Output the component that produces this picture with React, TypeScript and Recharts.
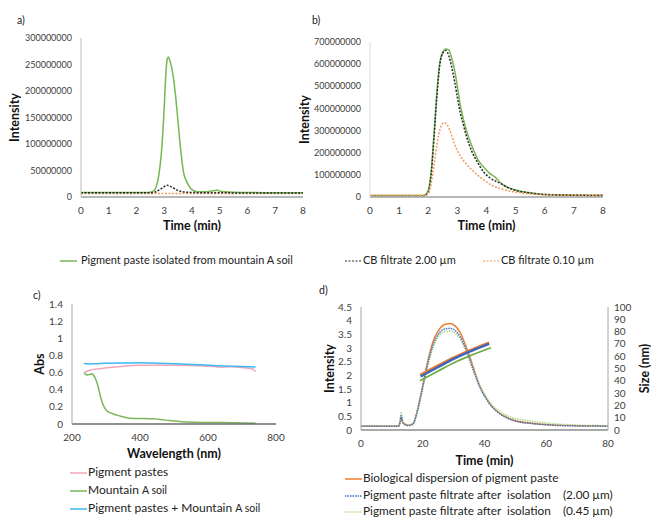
import React from 'react';
import { LineChart, Line, XAxis, YAxis, Label } from 'recharts';

const FONT = 'Lato, "Open Sans", "DejaVu Sans", sans-serif';

// ---------- Panel a (intensity vs time) ----------
const abTimeTicks = [0, 1, 2, 3, 4, 5, 6, 7, 8];
const aIntensityTicks = [0, 50000000, 100000000, 150000000, 200000000, 250000000, 300000000];
const aPigmentTime = [0, 1, 2, 2.4, 2.6, 2.7, 2.8, 2.9, 3.0, 3.05, 3.1, 3.15, 3.2, 3.3, 3.4, 3.5, 3.6, 3.7, 3.8, 3.9, 4.0, 4.2, 4.5, 4.8, 4.9, 5.0, 5.5, 6, 7, 8];
const aPigmentVal = [8.5e6, 8.5e6, 8.5e6, 8.5e6, 11e6, 18e6, 40e6, 85e6, 170e6, 225e6, 258e6, 264e6, 258e6, 235e6, 195e6, 140e6, 85e6, 45e6, 30e6, 20e6, 14e6, 10e6, 10e6, 12e6, 13e6, 11e6, 9e6, 8.5e6, 8e6, 8e6];
const aCB200Time = [0, 2.5, 2.7, 2.9, 3.1, 3.3, 3.5, 3.8, 4.5, 8];
const aCB200Val = [8e6, 8e6, 10e6, 16e6, 22e6, 18e6, 12e6, 9e6, 8e6, 7.5e6];
const aCB010Time = [0, 2, 4, 6, 8];
const aCB010Val = [6.5e6, 6.5e6, 6.5e6, 6.5e6, 6.5e6];

// ---------- Panel b ----------
const bIntensityTicks = [0, 100000000, 200000000, 300000000, 400000000, 500000000, 600000000, 700000000];
const bPigmentTime = [0, 1.8, 1.9, 2.0, 2.1, 2.2, 2.3, 2.4, 2.5, 2.6, 2.7, 2.8, 2.9, 3.0, 3.1, 3.2, 3.3, 3.5, 3.7, 3.9, 4.1, 4.3, 4.5, 4.7, 5.0, 5.4, 5.8, 6.3, 7, 8];
const bPigmentVal = [7e6, 7e6, 10e6, 30e6, 115e6, 290e6, 480e6, 610e6, 655e6, 668e6, 665e6, 630e6, 575e6, 500e6, 415e6, 355e6, 305e6, 230e6, 170e6, 135e6, 108e6, 90e6, 62e6, 45e6, 32e6, 20e6, 14e6, 10e6, 8e6, 8e6];
const bCB200Time = [0, 1.8, 1.9, 2.0, 2.1, 2.2, 2.3, 2.4, 2.5, 2.6, 2.7, 2.8, 2.9, 3.0, 3.1, 3.2, 3.3, 3.5, 3.7, 3.9, 4.1, 4.5, 4.7, 5.0, 5.4, 5.8, 6.3, 7, 8];
const bCB200Val = [6e6, 6e6, 8e6, 22e6, 100e6, 270e6, 460e6, 600e6, 650e6, 662e6, 640e6, 590e6, 525e6, 450e6, 380e6, 330e6, 280e6, 205e6, 155e6, 113e6, 88e6, 60e6, 45e6, 30e6, 20e6, 13e6, 10e6, 8e6, 7e6];
const bCB010Time = [0, 1.9, 2.0, 2.1, 2.2, 2.3, 2.4, 2.5, 2.56, 2.65, 2.8, 2.9, 3.1, 3.3, 3.6, 3.9, 4.2, 4.7, 5.2, 5.7, 6.5, 8];
const bCB010Val = [8e6, 8e6, 15e6, 60e6, 145e6, 240e6, 305e6, 332e6, 336e6, 326e6, 280e6, 240e6, 185e6, 150e6, 110e6, 77e6, 52e6, 30e6, 18e6, 12e6, 9e6, 8e6];

// ---------- Panel c (absorbance) ----------
const cWaveTicks = [200, 400, 600, 800];
const cAbsTicks = [0, 0.2, 0.4, 0.6, 0.8, 1, 1.2, 1.4];
const cPasteWave = [235, 250, 280, 300, 350, 400, 500, 600, 620, 640, 660, 700, 720, 730, 735, 740];
const cPasteAbs = [0.6, 0.625, 0.645, 0.655, 0.675, 0.685, 0.685, 0.675, 0.67, 0.66, 0.668, 0.66, 0.65, 0.645, 0.63, 0.61];
const cSoilWave = [235, 240, 245, 252, 258, 265, 272, 277, 285, 292, 302, 320, 341, 371, 438, 488, 537, 600, 680, 740];
const cSoilAbs = [0.59, 0.58, 0.572, 0.578, 0.585, 0.56, 0.5, 0.435, 0.3, 0.22, 0.155, 0.12, 0.093, 0.066, 0.06, 0.04, 0.023, 0.018, 0.015, 0.01];
const cMixWave = [235, 250, 270, 300, 350, 400, 450, 500, 550, 600, 650, 700, 740];
const cMixAbs = [0.705, 0.7, 0.703, 0.708, 0.712, 0.715, 0.71, 0.702, 0.695, 0.685, 0.678, 0.67, 0.665];

// ---------- Panel d (intensity + size) ----------
const dTimeTicks = [0, 20, 40, 60, 80];
const dIntensityTicks = [0, 0.5, 1, 1.5, 2, 2.5, 3, 3.5, 4, 4.5];
const dSizeTicks = [0, 10, 20, 30, 40, 50, 60, 70, 80, 90, 100];
const dTime = [0, 10, 12.2, 12.7, 13, 13.4, 14.3, 15.3, 16.9, 18, 19.1, 20.2, 21.3, 22.3, 23.4, 25, 26.7, 28.8, 30.4, 32.1, 33.7, 35.3, 36.9, 38.5, 40.2, 42.3, 44.5, 47.7, 49.9, 55, 60, 65, 70, 80];
const dBioInt = [0.15, 0.15, 0.15, 0.3, 0.48, 0.3, 0.2, 0.17, 0.24, 0.6, 1.14, 1.74, 2.35, 2.83, 3.26, 3.63, 3.84, 3.9, 3.82, 3.57, 3.15, 2.66, 2.11, 1.62, 1.25, 0.89, 0.65, 0.43, 0.34, 0.25, 0.2, 0.17, 0.16, 0.15];
const dF200Int = [0.14, 0.14, 0.14, 0.32, 0.52, 0.32, 0.2, 0.16, 0.23, 0.58, 1.1, 1.68, 2.27, 2.73, 3.13, 3.5, 3.68, 3.72, 3.65, 3.42, 3.02, 2.55, 2.03, 1.56, 1.2, 0.86, 0.63, 0.42, 0.33, 0.24, 0.19, 0.16, 0.15, 0.14];
const dF045Int = [0.15, 0.15, 0.15, 0.38, 0.62, 0.36, 0.21, 0.17, 0.24, 0.57, 1.08, 1.65, 2.22, 2.67, 3.06, 3.42, 3.58, 3.62, 3.56, 3.35, 2.98, 2.53, 2.04, 1.6, 1.25, 0.93, 0.7, 0.5, 0.42, 0.32, 0.25, 0.2, 0.17, 0.15];
const dBioSizeTime = [19.1, 25, 30, 35, 41.5];
const dBioSize = [44.7, 52.5, 58.8, 64.5, 71];
const dF200SizeTime = [19.3, 25, 30, 35, 41.5];
const dF200Size = [43.5, 51.2, 57.8, 63.5, 70];
const dF045SizeTime = [19.1, 25, 30, 35, 42.1];
const dF045Size = [40.1, 48, 54.5, 60, 66.9];

const pts = (xs: number[], ys: number[]) => xs.map((x, i) => ({ x, y: ys[i] }));

const tickStyle = { fontSize: 10, fill: '#404040', fontFamily: FONT };
const smallTickStyle = { fontSize: 9, fill: '#404040', fontFamily: FONT };
const titleStyle = { fontSize: 12.5, fontWeight: 700, fill: '#111', fontFamily: FONT };

const LegendSwatch = ({ color, dash, width = 2 }: { color: string; dash?: string; width?: number }) => (
  <svg width={17} height={10} style={{ display: 'inline-block', verticalAlign: 'middle', marginRight: 1 }}>
    <line x1={0} y1={5} x2={17} y2={5} stroke={color} strokeWidth={width} strokeDasharray={dash} />
  </svg>
);

const panelLabel = (text: string, left: number, top: number) => (
  <div style={{ position: 'absolute', left, top, fontFamily: FONT, fontSize: 10.5, color: '#222', lineHeight: '12px' }}>{text}</div>
);

export default function App() {
  return (
    <div style={{ position: 'absolute', left: 0, top: 0, width: 651, height: 518, background: '#fff', overflow: 'hidden' }}>
      {panelLabel('a)', 17, 14)}
      {panelLabel('b)', 312, 14)}
      {panelLabel('c)', 33, 289)}
      {panelLabel('d)', 319, 284)}

      {/* Panel a */}
      <div style={{ position: 'absolute', left: 0, top: 0 }}>
        <LineChart width={320} height={245} margin={{ top: 38, right: 17, left: 11, bottom: 15 }}>
          <XAxis type="number" dataKey="x" domain={[0, 8]} ticks={abTimeTicks} interval={0} tickLine={false} tickMargin={4} height={33}
            axisLine={{ stroke: '#a0a0a0', strokeWidth: 1.5 }} tick={tickStyle}>
            <Label value="Time (min)" position="insideBottom" offset={0} style={titleStyle} />
          </XAxis>
          <YAxis type="number" dataKey="y" domain={[0, 300000000]} ticks={aIntensityTicks} interval={0} width={70} tickLine={false} tickMargin={3}
            axisLine={{ stroke: '#bdbdbd', strokeWidth: 1 }} tick={smallTickStyle}>
            <Label value="Intensity" angle={-90} position="insideLeft" offset={4} style={{ ...titleStyle, textAnchor: 'middle' }} />
          </YAxis>
          <Line data={pts(aCB010Time, aCB010Val)} dataKey="y" type="monotone" stroke="#f29a5c" strokeWidth={1.5} strokeDasharray="2 1.5" dot={false} isAnimationActive={false} />
          <Line data={pts(aPigmentTime, aPigmentVal)} dataKey="y" type="monotone" stroke="#76b852" strokeWidth={1.5} dot={false} isAnimationActive={false} />
          <Line data={pts(aCB200Time, aCB200Val)} dataKey="y" type="monotone" stroke="#2a2a2a" strokeWidth={1.5} strokeDasharray="2 1.5" dot={false} isAnimationActive={false} />
        </LineChart>
      </div>

      {/* Panel b */}
      <div style={{ position: 'absolute', left: 290, top: 0 }}>
        <LineChart width={330} height={245} margin={{ top: 42, right: 17, left: 10, bottom: 15 }}>
          <XAxis type="number" dataKey="x" domain={[0, 8]} ticks={abTimeTicks} interval={0} tickLine={false} tickMargin={4} height={33}
            axisLine={{ stroke: '#a0a0a0', strokeWidth: 1.5 }} tick={tickStyle}>
            <Label value="Time (min)" position="insideBottom" offset={0} style={titleStyle} />
          </XAxis>
          <YAxis type="number" dataKey="y" domain={[0, 700000000]} ticks={bIntensityTicks} interval={0} width={70} tickLine={false} tickMargin={3}
            axisLine={{ stroke: '#dedede', strokeWidth: 1 }} tick={smallTickStyle}>
            <Label value="Intensity" angle={-90} position="insideLeft" offset={5} style={{ ...titleStyle, textAnchor: 'middle' }} />
          </YAxis>
          <Line data={pts(bPigmentTime, bPigmentVal)} dataKey="y" type="monotone" stroke="#76b852" strokeWidth={1.5} dot={false} isAnimationActive={false} />
          <Line data={pts(bCB200Time, bCB200Val)} dataKey="y" type="monotone" stroke="#2a2a2a" strokeWidth={1.5} strokeDasharray="2 1.5" dot={false} isAnimationActive={false} />
          <Line data={pts(bCB010Time, bCB010Val)} dataKey="y" type="monotone" stroke="#f29a5c" strokeWidth={1.5} strokeDasharray="2 1.5" dot={false} isAnimationActive={false} />
        </LineChart>
      </div>

      {/* Legend a/b */}
      <div style={{ position: 'absolute', left: 60, top: 252, fontFamily: FONT, fontSize: 11, color: '#222', whiteSpace: 'nowrap', lineHeight: '16px' }}>
        <LegendSwatch color="#76b852" width={1.5} />
        <span style={{ marginLeft: 3 }}>Pigment paste isolated from mountain A soil</span>
      </div>
      <div style={{ position: 'absolute', left: 345, top: 252, fontFamily: FONT, fontSize: 11, color: '#222', whiteSpace: 'nowrap', lineHeight: '16px' }}>
        <LegendSwatch color="#2a2a2a" dash="2 1.5" width={1.2} />
        <span>CB filtrate 2.00 µm</span>
      </div>
      <div style={{ position: 'absolute', left: 483, top: 252, fontFamily: FONT, fontSize: 11, color: '#222', whiteSpace: 'nowrap', lineHeight: '16px' }}>
        <LegendSwatch color="#f29a5c" dash="2 1.5" width={1.2} />
        <span>CB filtrate 0.10 µm</span>
      </div>

      {/* Panel c */}
      <div style={{ position: 'absolute', left: 0, top: 270 }}>
        <LineChart width={300} height={248} margin={{ top: 34, right: 24, left: 30, bottom: 60 }}>
          <XAxis type="number" dataKey="x" domain={[200, 800]} ticks={cWaveTicks} interval={0} tickLine={false} tickMargin={4} height={34}
            axisLine={{ stroke: '#6a6a6a', strokeWidth: 1.5 }} tick={tickStyle}>
            <Label value="Wavelength (nm)" position="insideBottom" offset={0} style={titleStyle} />
          </XAxis>
          <YAxis type="number" dataKey="y" domain={[0, 1.4]} ticks={cAbsTicks} interval={0} width={42} tickLine={false} tickMargin={3}
            axisLine={{ stroke: '#a6a6a6', strokeWidth: 1 }} tick={tickStyle}>
            <Label value="Abs" angle={-90} position="insideLeft" offset={10} style={{ ...titleStyle, textAnchor: 'middle' }} />
          </YAxis>
          <Line data={pts(cPasteWave, cPasteAbs)} dataKey="y" type="monotone" stroke="#f2a7b8" strokeWidth={1.5} dot={false} isAnimationActive={false} />
          <Line data={pts(cSoilWave, cSoilAbs)} dataKey="y" type="monotone" stroke="#7ab55c" strokeWidth={1.5} dot={false} isAnimationActive={false} />
          <Line data={pts(cMixWave, cMixAbs)} dataKey="y" type="monotone" stroke="#3bb8ef" strokeWidth={1.5} dot={false} isAnimationActive={false} />
        </LineChart>
      </div>

      {/* Legend c */}
      <div style={{ position: 'absolute', left: 70, top: 463, fontFamily: FONT, fontSize: 12, color: '#222', whiteSpace: 'nowrap', lineHeight: '18px' }}>
        <div><LegendSwatch color="#f2a7b8" width={1.5} /><span>Pigment pastes</span></div>
        <div><LegendSwatch color="#7ab55c" width={1.5} /><span>Mountain <span style={{ fontSize: 10.5 }}>A soil</span></span></div>
        <div><LegendSwatch color="#3bb8ef" width={1.5} /><span>Pigment pastes + Mountain <span style={{ fontSize: 10.5 }}>A soil</span></span></div>
      </div>

      {/* Panel d */}
      <div style={{ position: 'absolute', left: 320, top: 270 }}>
        <LineChart width={331} height={248} margin={{ top: 37, right: 0, left: 0, bottom: 53 }}>
          <XAxis type="number" dataKey="x" domain={[0, 80]} ticks={dTimeTicks} interval={0} tickLine={false} tickMargin={4} height={35}
            axisLine={{ stroke: '#8c8c8c', strokeWidth: 1.5 }} tick={tickStyle}>
            <Label value="Time (min)" position="insideBottom" offset={0} style={titleStyle} />
          </XAxis>
          <YAxis yAxisId="left" type="number" dataKey="y" domain={[0, 4.5]} ticks={dIntensityTicks} interval={0} width={41} tickLine={false} tickMargin={3}
            axisLine={{ stroke: '#a6a6a6', strokeWidth: 1 }} tick={tickStyle}>
            <Label value="Intensity" angle={-90} position="insideLeft" offset={10} style={{ ...titleStyle, textAnchor: 'middle' }} />
          </YAxis>
          <YAxis yAxisId="right" orientation="right" type="number" dataKey="y" domain={[0, 100]} ticks={dSizeTicks} interval={0} width={43} tickLine={false} tickMargin={0}
            axisLine={{ stroke: '#a6a6a6', strokeWidth: 1 }} tick={tickStyle}>
            <Label value="Size (nm)" angle={-90} position="insideRight" offset={6} style={{ ...titleStyle, textAnchor: 'middle' }} />
          </YAxis>
          <Line yAxisId="left" data={pts(dTime, dBioInt)} dataKey="y" type="monotone" stroke="#ed7d31" strokeWidth={1.5} dot={false} isAnimationActive={false} />
          <Line yAxisId="left" data={pts(dTime, dF045Int)} dataKey="y" type="monotone" stroke="#b7dd94" strokeWidth={2} strokeDasharray="1.5 1" dot={false} isAnimationActive={false} />
          <Line yAxisId="left" data={pts(dTime, dF200Int)} dataKey="y" type="monotone" stroke="#4472c4" strokeWidth={1.5} strokeDasharray="1.5 1" dot={false} isAnimationActive={false} />
          <Line yAxisId="right" data={pts(dBioSizeTime, dBioSize)} dataKey="y" type="monotone" stroke="#ed7d31" strokeWidth={2.5} dot={false} isAnimationActive={false} />
          <Line yAxisId="right" data={pts(dF200SizeTime, dF200Size)} dataKey="y" type="monotone" stroke="#3d66b8" strokeWidth={2.5} dot={false} isAnimationActive={false} />
          <Line yAxisId="right" data={pts(dF045SizeTime, dF045Size)} dataKey="y" type="monotone" stroke="#70ad47" strokeWidth={1.8} dot={false} isAnimationActive={false} />
        </LineChart>
      </div>

      {/* Legend d */}
      <div style={{ position: 'absolute', left: 345, top: 470, fontFamily: FONT, fontSize: 11.8, color: '#222', whiteSpace: 'pre', lineHeight: '16.5px' }}>
        <div><LegendSwatch color="#ed7d31" width={1.5} /><span>Biological dispersion of pigment paste</span></div>
        <div><LegendSwatch color="#4472c4" dash="1.5 1" width={1.3} /><span>{'Pigment paste filtrate after  isolation    (2.00 µm)'}</span></div>
        <div><LegendSwatch color="#b7dd94" dash="1.5 1" width={1.5} /><span>{'Pigment paste filtrate after  isolation    (0.45 µm)'}</span></div>
      </div>
    </div>
  );
}
